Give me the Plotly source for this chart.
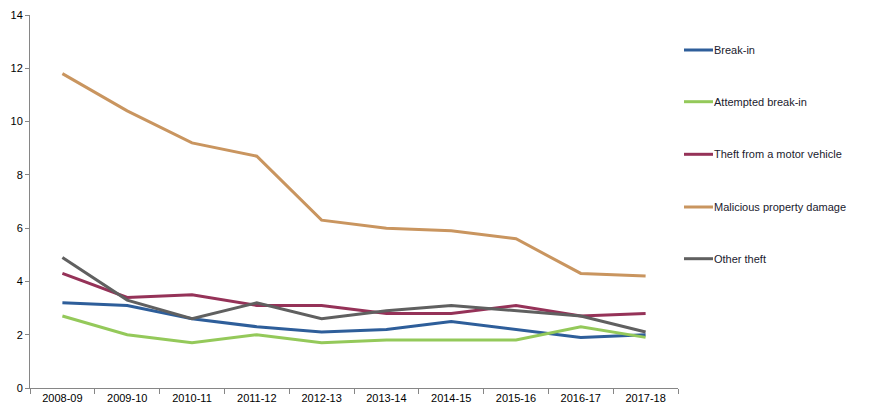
import plotly.graph_objects as go

years = ["2008-09", "2009-10", "2010-11", "2011-12", "2012-13",
         "2013-14", "2014-15", "2015-16", "2016-17", "2017-18"]
break_in = [3.2, 3.1, 2.6, 2.3, 2.1, 2.2, 2.5, 2.2, 1.9, 2.0]
attempted = [2.7, 2.0, 1.7, 2.0, 1.7, 1.8, 1.8, 1.8, 2.3, 1.9]
theft_mv = [4.3, 3.4, 3.5, 3.1, 3.1, 2.8, 2.8, 3.1, 2.7, 2.8]
malicious = [11.8, 10.4, 9.2, 8.7, 6.3, 6.0, 5.9, 5.6, 4.3, 4.2]
other_theft = [4.9, 3.3, 2.6, 3.2, 2.6, 2.9, 3.1, 2.9, 2.7, 2.1]

series = [
    ("Break-in", break_in, "#2E5E9A"),
    ("Attempted break-in", attempted, "#94C95A"),
    ("Theft from a motor vehicle", theft_mv, "#953258"),
    ("Malicious property damage", malicious, "#C9955F"),
    ("Other theft", other_theft, "#606060"),
]

W, H = 869, 416
L, R, T, B = 30, 191, 15, 28

fig = go.Figure()
for name, vals, col in series:
    fig.add_trace(go.Scatter(x=years, y=vals, mode="lines", name=name,
                             line=dict(color=col, width=3), showlegend=False))

# manual legend to match spacing
leg_y_px = [50, 101.7, 154.3, 207, 258.7]
plot_w = W - L - R
plot_h = H - T - B
shapes = []
annotations = []
for (name, vals, col), ypx in zip(series, leg_y_px):
    yp = (H - B - ypx) / plot_h
    x0 = (684 - L) / plot_w
    x1 = (713 - L) / plot_w
    shapes.append(dict(type="line", xref="paper", yref="paper", x0=x0, x1=x1,
                       y0=yp, y1=yp, line=dict(color=col, width=3)))
    annotations.append(dict(xref="paper", yref="paper", x=x1, y=yp, text=name,
                            showarrow=False, xanchor="left", yanchor="middle",
                            xshift=-1,
                            font=dict(size=11, color="#1a1a2e",
                                      family="Liberation Sans, Arial, sans-serif")))

fig.update_layout(
    width=W, height=H,
    margin=dict(l=L, r=R, t=T, b=B, autoexpand=False),
    paper_bgcolor="white", plot_bgcolor="white",
    font=dict(family="Liberation Sans, Arial, sans-serif", size=11, color="black"),
    shapes=shapes, annotations=annotations,
    xaxis=dict(type="category", showline=True, linecolor="#868686", linewidth=1,
               ticks="outside", ticklen=5, tickcolor="#868686",
               tickson="boundaries", showgrid=False, zeroline=False,
               range=[-0.5, 9.5],
               tickfont=dict(size=11, color="black")),
    yaxis=dict(range=[0, 14], dtick=2, showline=True, linecolor="#868686",
               linewidth=1, ticks="outside", ticklen=4, tickcolor="#868686",
               showgrid=False, zeroline=False,
               tickfont=dict(size=11, color="black")),
)

fig.write_html("out.html",
               config={"displayModeBar": False},
               post_script="document.body.style.margin='0';document.body.style.overflow='hidden';")
